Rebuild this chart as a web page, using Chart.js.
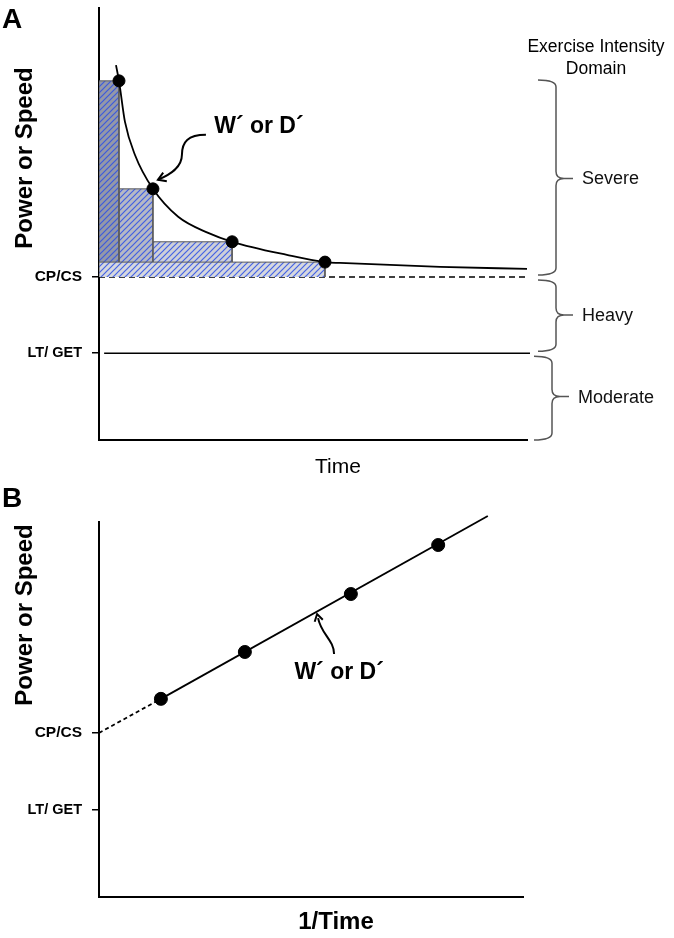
<!DOCTYPE html>
<html>
<head>
<meta charset="utf-8">
<script src="https://cdn.jsdelivr.net/npm/chart.js@4.4.1/dist/chart.umd.min.js"></script>
<style>
  html, body { margin: 0; padding: 0; background: #fff; }
  canvas { display: block; }
</style>
</head>
<body>
<canvas id="panelA" width="674" height="480"></canvas>
<canvas id="panelB" width="674" height="458"></canvas>
<script>
// thresholds on the power axis
const CP = 38.5
const LT = 20.5
const yTickLabels = ['LT/ GET', 'CP/CS']

// panel A: power-duration curve and the four trials
const curveTime  = [3.97, 4.67, 6.07, 8.41, 12.6, 18.5, 25.5, 31.1, 43.9, 52.8, 56.3, 79.7, 100]
const curvePower = [88.5, 84.8, 75.1, 67.3, 59.3, 52.7, 48.9, 46.8, 43.7, 42.0, 41.8, 40.9, 40.4]
const trialTime  = [4.67, 12.6, 31.1, 52.8]
const trialPower = [84.8, 59.3, 46.8, 42.0]
const severeTop  = 85
const domains    = ['Severe', 'Heavy', 'Moderate']

// panel B: linear 1/time model
const invTime    = [14.6, 34.4, 59.4, 80.0]
const invPower   = [46.5, 57.5, 71.1, 82.6]
const fitInvTime = [0, 14.6, 91.7]
const fitPower   = [CP, 46.5, 89.4]

const FONT = '"Liberation Sans", Arial, Helvetica, sans-serif'

function hatch(bg) {
    const c = document.createElement('canvas')
    c.width = 6
    c.height = 6
    const g = c.getContext('2d')
    g.fillStyle = bg
    g.fillRect(0, 0, 6, 6)
    g.strokeStyle = 'rgba(45, 80, 230, 0.85)'
    g.lineWidth = 1.2
    g.beginPath()
    g.moveTo(-1, 7); g.lineTo(7, -1)
    g.moveTo(-4, 4); g.lineTo(4, -4)
    g.moveTo(2, 10); g.lineTo(10, 2)
    g.stroke()
    return g.createPattern(c, 'repeat')
}
const ctxA = document.getElementById('panelA').getContext('2d')
// one shade per trial block, darkest for the shortest trial
const blockShades = ['rgb(148, 152, 168)', 'rgb(182, 185, 197)', 'rgb(206, 208, 217)', 'rgb(214, 216, 223)']

function arrowHead(ctx, x, y, fromX, fromY, len) {
    const a = Math.atan2(y - fromY, x - fromX)
    ctx.beginPath()
    ctx.moveTo(x - len * Math.cos(a - 0.55), y - len * Math.sin(a - 0.55))
    ctx.lineTo(x, y)
    ctx.lineTo(x - len * Math.cos(a + 0.55), y - len * Math.sin(a + 0.55))
    ctx.stroke()
}

function brace(ctx, x0, xv, xt, top, bottom, mid) {
    const r = 7
    ctx.beginPath()
    ctx.moveTo(x0, top)
    ctx.quadraticCurveTo(xv, top, xv, top + r)
    ctx.lineTo(xv, mid - r)
    ctx.quadraticCurveTo(xv, mid, xv + 8, mid)
    ctx.lineTo(xt, mid)
    ctx.moveTo(xv + 8, mid)
    ctx.quadraticCurveTo(xv, mid, xv, mid + r)
    ctx.lineTo(xv, bottom - r)
    ctx.quadraticCurveTo(xv, bottom, x0, bottom)
    ctx.stroke()
}

function yAxis(max) {
    return {
        type: 'linear', min: 0, max: max,
        afterBuildTicks: s => { s.ticks = [{ value: LT }, { value: CP }] },
        afterFit: s => { s.width = 99; s.paddingTop = 0; s.paddingBottom = 0 },
        ticks: {
            callback: (v, i) => yTickLabels[i],
            color: '#000', padding: 10, autoSkip: false,
            font: c => ({ family: FONT, size: c.index === 1 ? 15.5 : 14.5, weight: 'bold' })
        },
        grid: { drawOnChartArea: false, color: '#000', lineWidth: 1.5, tickLength: 7 },
        border: { color: '#000', width: 2 }
    }
}

function xAxis(height) {
    return {
        type: 'linear', min: 0, max: 100,
        ticks: { display: false },
        grid: { display: false, drawTicks: false },
        border: { color: '#000', width: 2 },
        afterFit: s => { s.height = height; s.paddingLeft = 0; s.paddingRight = 0 }
    }
}

function verticalTitle(ctx, text, x, y) {
    ctx.save()
    ctx.translate(x, y)
    ctx.rotate(-Math.PI / 2)
    ctx.font = 'bold 24px ' + FONT
    ctx.textAlign = 'center'
    ctx.textBaseline = 'middle'
    ctx.fillText(text, 0, 0)
    ctx.restore()
}

const last = trialTime.length - 1
const rects = trialTime.map((t, i) => ({
    data: [{ x: 0, y: CP }, { x: 0, y: trialPower[i] }, { x: t, y: trialPower[i] }, { x: t, y: CP }],
    fill: { value: CP },
    backgroundColor: hatch(blockShades[i]),
    borderColor: '#5a5a5a',
    borderWidth: 1,
    pointRadius: 0,
    tension: 0,
    order: i === last ? 2 : 3 + i
}))

const decorA = {
    id: 'decorA',
    afterDraw(chart) {
        const ctx = chart.ctx
        const area = chart.chartArea
        const xs = chart.scales.x
        const ys = chart.scales.y
        ctx.save()
        ctx.fillStyle = '#000'
        ctx.strokeStyle = '#000'
        ctx.font = 'bold 28px ' + FONT
        ctx.textBaseline = 'alphabetic'
        ctx.fillText('A', 2, 28)
        verticalTitle(ctx, 'Power or Speed', 25, 158)

        // W' annotation pointing at the second trial
        const px = xs.getPixelForValue(trialTime[1])
        const py = ys.getPixelForValue(trialPower[1])
        ctx.font = 'bold 23px ' + FONT
        ctx.textAlign = 'center'
        ctx.fillText('W\u00B4 or D\u00B4', px + 106, py - 56)
        ctx.lineWidth = 2
        ctx.beginPath()
        ctx.moveTo(px + 53, py - 54)
        ctx.bezierCurveTo(px + 35, py - 54, px + 29, py - 47, px + 29, py - 34)
        ctx.bezierCurveTo(px + 29, py - 21, px + 17, py - 14, px + 5, py - 9)
        ctx.stroke()
        arrowHead(ctx, px + 5, py - 9, px + 17, py - 14, 9)

        ctx.font = '21px ' + FONT
        ctx.fillText('Time', 338, 473)
        ctx.font = '17.5px ' + FONT
        ctx.fillText('Exercise Intensity', 596, 52)
        ctx.fillText('Domain', 596, 74)

        // domain braces
        ctx.strokeStyle = '#555'
        ctx.lineWidth = 1.5
        const bounds = [[severeTop, CP], [CP, LT], [LT, 0]]
        ctx.font = '18px ' + FONT
        ctx.textAlign = 'left'
        ctx.textBaseline = 'middle'
        ctx.fillStyle = '#111'
        bounds.forEach((b, i) => {
            const top = ys.getPixelForValue(b[0]) + (i ? 3 : 0)
            const bottom = ys.getPixelForValue(b[1]) - (i < 2 ? 2 : 0)
            const mid = ys.getPixelForValue((b[0] + b[1]) / 2)
            const shift = i === 2 ? -4 : 0
            brace(ctx, area.right + 11 + shift, area.right + 29 + shift, area.right + 46 + shift, top, bottom, mid)
            ctx.fillText(domains[i], area.right + 55 + shift, mid + 1)
        })
        ctx.restore()
    }
}

new Chart(ctxA, {
    type: 'line',
    data: {
        datasets: [
            {
                data: trialTime.map((t, i) => ({ x: t, y: trialPower[i] })),
                showLine: false, pointRadius: 6, pointBackgroundColor: '#000', pointBorderColor: '#000', order: 0
            },
            {
                data: curveTime.map((t, i) => ({ x: t, y: curvePower[i] })),
                borderColor: '#000', borderWidth: 1.8, pointRadius: 0, fill: false,
                cubicInterpolationMode: 'monotone', order: 1
            },
            ...rects,
            {
                data: [{ x: 0, y: CP }, { x: 100, y: CP }],
                borderColor: '#000', borderWidth: 1.6, borderDash: [6, 4], pointRadius: 0, fill: false, order: 7
            },
            {
                data: [{ x: 1.2, y: LT }, { x: 100.7, y: LT }],
                borderColor: '#000', borderWidth: 1.6, pointRadius: 0, fill: false, clip: false, order: 8
            }
        ]
    },
    options: {
        responsive: false,
        animation: false,
        layout: { padding: { top: 8, right: 147, left: 0, bottom: 0 } },
        plugins: { legend: { display: false }, tooltip: { enabled: false } },
        scales: { x: xAxis(40), y: yAxis(102) }
    },
    plugins: [decorA]
})

const decorB = {
    id: 'decorB',
    afterDraw(chart) {
        const ctx = chart.ctx
        const xs = chart.scales.x
        const ys = chart.scales.y
        ctx.save()
        ctx.fillStyle = '#000'
        ctx.strokeStyle = '#000'
        ctx.font = 'bold 28px ' + FONT
        ctx.fillText('B', 2, 27)
        verticalTitle(ctx, 'Power or Speed', 25, 135)

        // W' annotation pointing at the slope between trials 2 and 3
        const tx = xs.getPixelForValue(51.2)
        const ty = ys.getPixelForValue(CP + (fitPower[2] - fitPower[1]) / (fitInvTime[2] - fitInvTime[1]) * (51.2 - 14.6) + (fitPower[1] - CP))
        ctx.lineWidth = 2
        ctx.beginPath()
        ctx.moveTo(tx + 18, ty + 42)
        ctx.bezierCurveTo(tx + 18, ty + 28, tx + 5, ty + 22, tx + 2, ty + 6)
        ctx.stroke()
        arrowHead(ctx, tx + 1, ty + 2, tx + 3, ty + 10, 8)
        ctx.font = 'bold 23px ' + FONT
        ctx.textAlign = 'center'
        ctx.fillText('W\u00B4 or D\u00B4', tx + 23, ty + 67)

        ctx.font = 'bold 24px ' + FONT
        ctx.fillText('1/Time', 336, 449)
        ctx.restore()
    }
}

new Chart(document.getElementById('panelB'), {
    type: 'line',
    data: {
        datasets: [
            {
                data: invTime.map((t, i) => ({ x: t, y: invPower[i] })),
                showLine: false, pointRadius: 6.5, pointBackgroundColor: '#000', pointBorderColor: '#000', order: 0
            },
            {
                data: fitInvTime.map((t, i) => ({ x: t, y: fitPower[i] })),
                borderColor: '#000', borderWidth: 1.8, pointRadius: 0, fill: false, clip: false,
                segment: { borderDash: c => c.p0DataIndex === 0 ? [4, 3] : undefined },
                order: 1
            }
        ]
    },
    options: {
        responsive: false,
        animation: false,
        layout: { padding: { top: 42, right: 151, left: 0, bottom: 0 } },
        plugins: { legend: { display: false }, tooltip: { enabled: false } },
        scales: { x: xAxis(41), y: yAxis(88) }
    },
    plugins: [decorB]
})
</script>
</body>
</html>
